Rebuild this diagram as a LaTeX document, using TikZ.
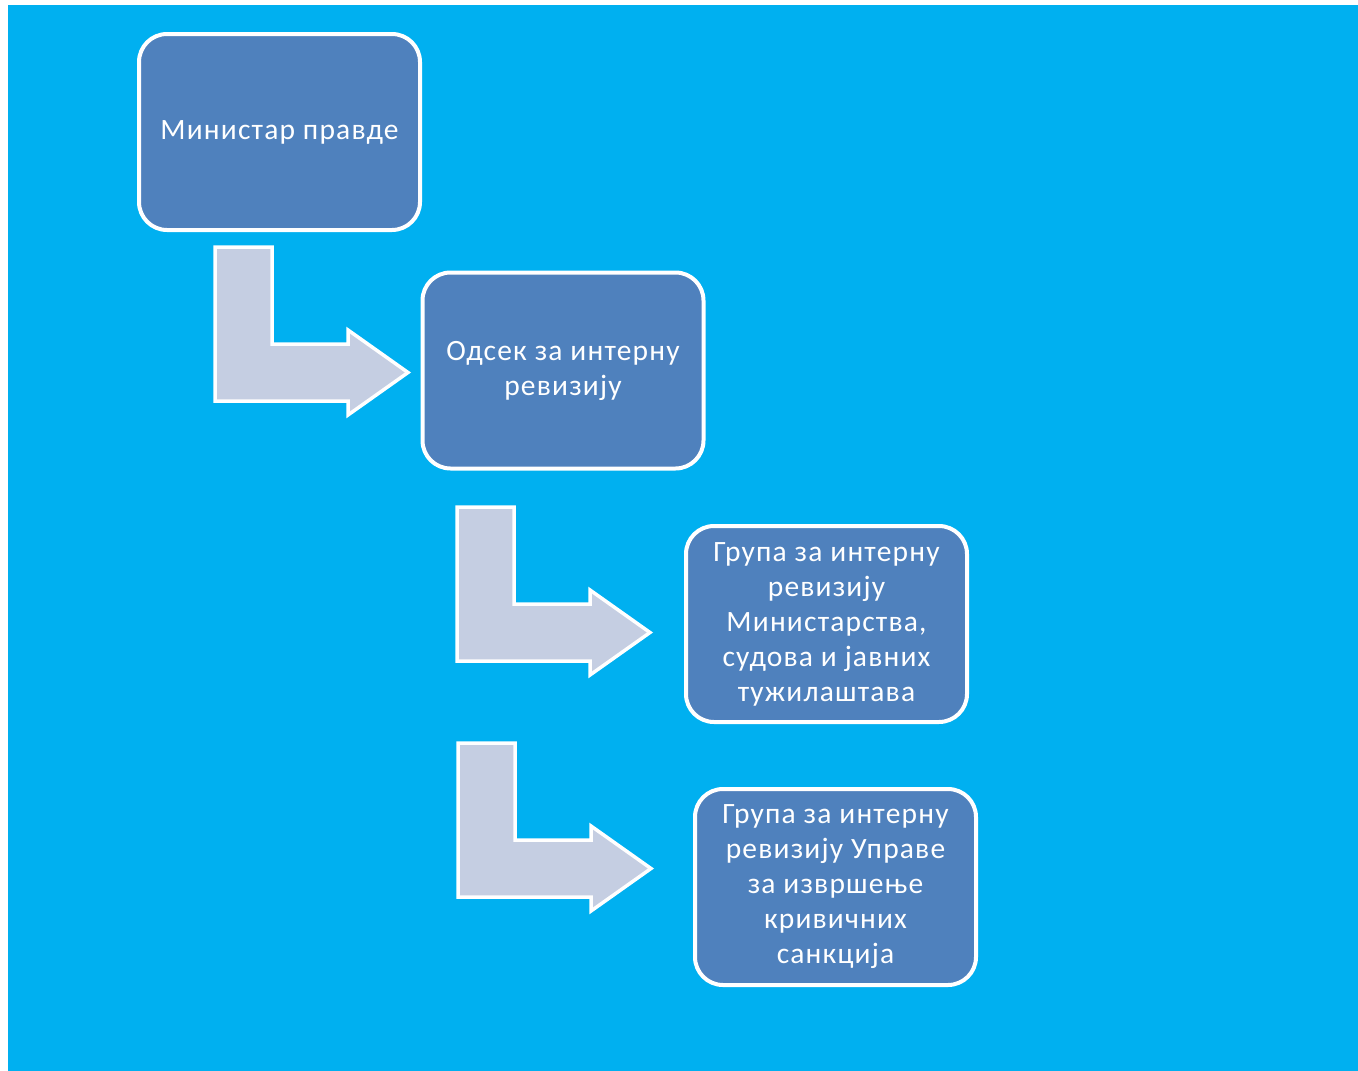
\documentclass[tikz,border=0pt]{standalone}
\usepackage{fontspec}
\setmainfont{Carlito}
\newfontfamily\boxfont[LetterSpace=4]{Carlito}
\definecolor{bgblue}{HTML}{00B0F0}
\definecolor{boxblue}{HTML}{4F81BD}
\definecolor{arrowfill}{HTML}{C5CEE2}
\begin{document}
\begin{tikzpicture}[x=1pt,y=-1pt,
  orgbox/.style={draw=white, line width=4pt, fill=boxblue, rounded corners=28pt,
    minimum width=281pt, minimum height=196pt, inner sep=0pt, align=center,
    text=white, font=\boxfont\fontsize{29.5}{35}\selectfont},
  bentarrow/.pic={
    \path[draw=white, line width=3.5pt, fill=arrowfill, line join=miter]
      (0,0) -- (57,0) -- (57,97) -- (133,97) -- (133,83) -- (193,125.5)
      -- (133,168) -- (133,154) -- (0,154) -- cycle;
  }]
\useasboundingbox (0,0) rectangle (1358,1071);
\fill[white] (0,0) rectangle (1358,1071);
\fill[bgblue] (8,5) rectangle (1358,1071);

\node[orgbox] (min) at (279.5,132) {Министар правде};
\node[orgbox] (odsek) at (563,370.5) {Одсек за интерну\\ревизију};
\node[orgbox] (grupa1) at (826.5,624) {Група за интерну\\ревизију\\Министарства,\\судова и јавних\\тужилаштава};
\node[orgbox] (grupa2) at (835.5,887) {Група за интерну\\ревизију Управе\\за извршење\\кривичних\\санкција};

\pic at (215,247) {bentarrow};
\pic at (457,507) {bentarrow};
\pic at (458,743) {bentarrow};
\end{tikzpicture}
\end{document}
